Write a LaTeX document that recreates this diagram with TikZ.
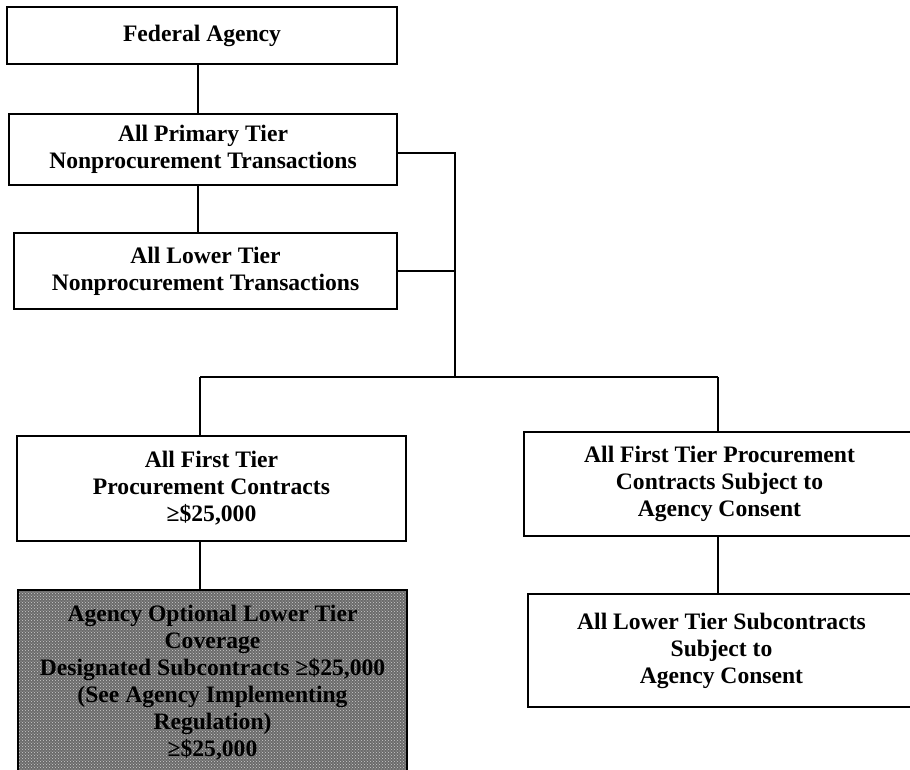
\documentclass[tikz,border=0pt]{standalone}
\usepackage{fontspec}
\setmainfont{Liberation Serif}
\usepackage{tikz}
\usetikzlibrary{positioning, calc, patterns}

\begin{document}
\begin{tikzpicture}[
  x=1pt, y=-1pt,
  tier/.style={rectangle, draw, line width=1.2pt, align=center, inner sep=0pt,
    font=\fontsize{23.6pt}{27pt}\selectfont\bfseries},
  optional/.style={tier, preaction={fill=black!58}, pattern=crosshatch dots, pattern color=white!80!black},
  link/.style={line width=1.2pt}
]
  \useasboundingbox (0,0) rectangle (910,769);

  \node[tier, minimum width=390pt, minimum height=57pt] (agency) at (202,35.5) {Federal Agency};

  \node[tier, minimum width=388pt, minimum height=71pt] (primary) at (203,149.5) {All Primary Tier\\Nonprocurement Transactions};

  \node[tier, minimum width=383pt, minimum height=76pt] (lowernp) at (205.5,271) {All Lower Tier\\Nonprocurement Transactions};

  \node[tier, minimum width=389pt, minimum height=105pt] (firstpc) at (211.5,488.5) {All First Tier\\Procurement Contracts\\≥\$25,000};

  \node[optional, minimum width=389pt, minimum height=185pt] (optcov) at (212.5,682.5) {Agency Optional Lower Tier\\Coverage\\Designated Subcontracts ≥\$25,000\\(See Agency Implementing\\Regulation)\\≥\$25,000};

  \node[tier, minimum width=391pt, minimum height=104pt] (firstcons) at (719.5,484) {All First Tier Procurement\\Contracts Subject to\\Agency Consent};

  \node[tier, minimum width=387pt, minimum height=113pt] (lowercons) at (721.5,650.5) {All Lower Tier Subcontracts\\Subject to\\Agency Consent};

  % bus between nonprocurement and procurement tiers
  \coordinate (bus) at (455,377);
  \coordinate (busl) at (200,377);
  \coordinate (busr) at (718,377);

  \draw[link] (agency.south -| 198,0) -- (198,0 |- primary.north);
  \draw[link] (primary.south -| 198,0) -- (198,0 |- lowernp.north);
  \draw[link] (primary.east |- 0,153) -| (bus);
  \draw[link] (lowernp.east) -- (lowernp.east -| bus);
  \draw[link] (busl) -- (busr);
  \draw[link] (busl) -- (busl |- firstpc.north);
  \draw[link] (busr) -- (busr |- firstcons.north);
  \draw[link] (firstpc.south -| busl) -- (busl |- optcov.north);
  \draw[link] (firstcons.south -| busr) -- (busr |- lowercons.north);
\end{tikzpicture}
\end{document}
